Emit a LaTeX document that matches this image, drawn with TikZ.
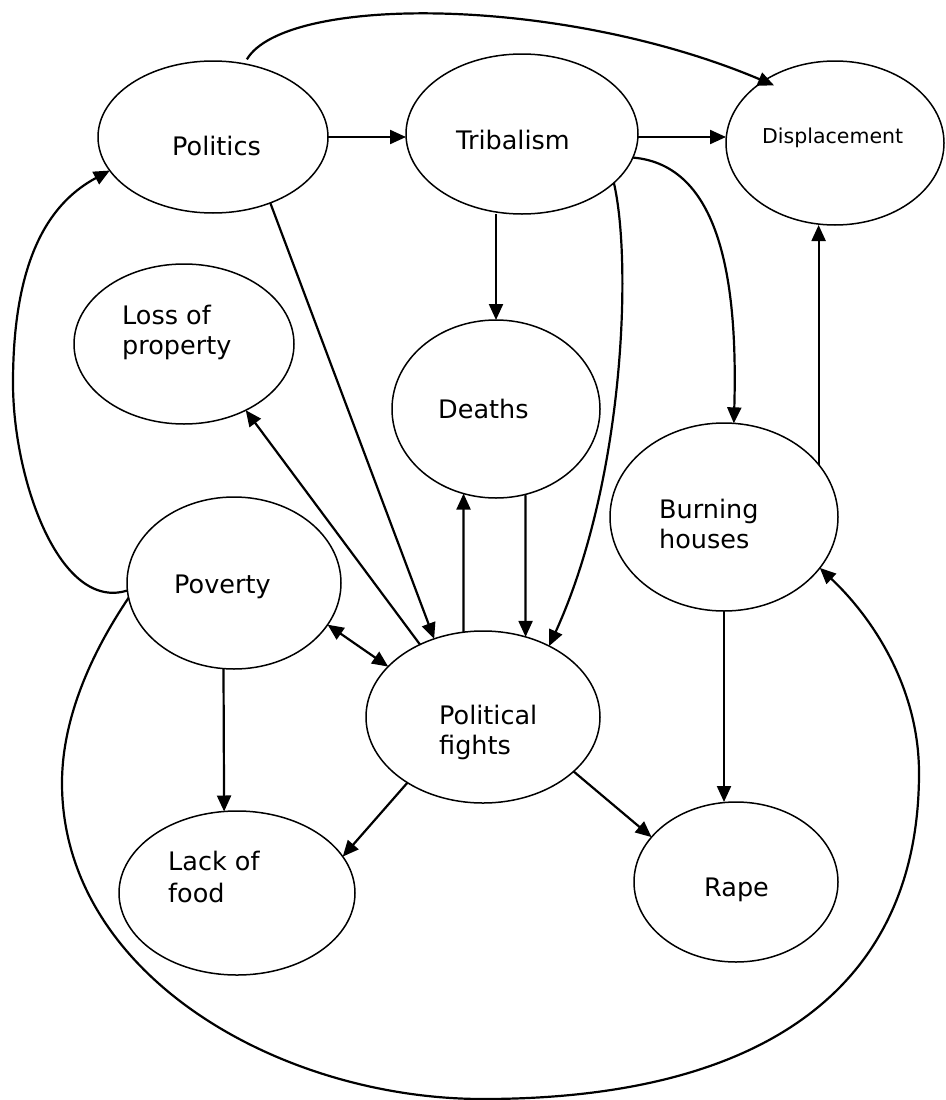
\documentclass[tikz,border=0pt]{standalone}
\usepackage{fontspec}
\setmainfont{DejaVu Sans}
\usetikzlibrary{shapes.geometric,arrows.meta}
\begin{document}
\begin{tikzpicture}[x=1pt,y=-1pt,
  ell/.style={ellipse,draw,line width=1.5pt,inner sep=0pt,outer sep=0pt},
  lbl/.style={anchor=base west,inner sep=0pt,align=left,font=\fontsize{25.5}{30}\selectfont},
  conn/.style={line width=2.2pt,-{Triangle[length=16pt,width=14pt]}},
  dconn/.style={line width=2.2pt,{Triangle[length=16pt,width=14pt]}-{Triangle[length=16pt,width=14pt]}}]
\useasboundingbox (0,0) rectangle (945,1100);
% ellipses
\node[ell,minimum width=230pt,minimum height=152pt] (pol) at (213,137) {};
\node[ell,minimum width=232pt,minimum height=160pt] (tri) at (522,134) {};
\node[ell,minimum width=218pt,minimum height=164pt] (dis) at (835,143) {};
\node[ell,minimum width=220pt,minimum height=160pt] (loss) at (184,344) {};
\node[ell,minimum width=208pt,minimum height=178pt] (dea) at (496,409) {};
\node[ell,minimum width=228pt,minimum height=188pt] (bur) at (724,517) {};
\node[ell,minimum width=214pt,minimum height=172pt] (pov) at (234,583) {};
\node[ell,minimum width=234pt,minimum height=172pt] (pf) at (483,717) {};
\node[ell,minimum width=236pt,minimum height=164pt] (lof) at (237,893) {};
\node[ell,minimum width=204pt,minimum height=160pt] (rape) at (736,882) {};
% labels (multi-line labels are anchored at the baseline of their last line)
\node[lbl] (tpol) at (172,155) {Politics};
\node[lbl] (ttri) at (456,149) {Tribalism};
\node[lbl,font=\fontsize{20.5}{24}\selectfont] (tdis) at (762,143) {Displacement};
\node[lbl] (tloss) at (122,354) {Loss of\\property};
\node[lbl] (tdea) at (438,418) {Deaths};
\node[lbl] (tbur) at (659,548) {Burning\\houses};
\node[lbl] (tpov) at (174,593) {Poverty};
\node[lbl] (tpf) at (439,754) {Political\\fights};
\node[lbl,font=\fontsize{25.5}{32}\selectfont] (tlof) at (168,902) {Lack of\\food};
\node[lbl] (trape) at (704,896) {Rape};
% connectors
\draw[conn] (pol.east) -- (pol.east -| tri.west);
\draw[conn] ([yshift=-3pt]tri.east) -- ([yshift=-3pt]tri.east -| dis.west);
\draw[conn] (dea.north |- tri.south) -- (dea.north);
\draw[conn] ([shift={(0,-5)}]pol.65) .. controls (285,-5) and (560,-5) .. ([shift={(6,7)}]dis.136);
\draw[conn] (tri.-12.5) .. controls (720,165) and (738,280) .. (bur.84);
\draw[conn] (tri.-28) .. controls (632,260) and (625,480) .. (pf.47);
\draw[conn] (pol.-49) -- (pf.122);
\draw[conn] (pf.131) -- (loss.-47);
\draw[conn] (dea.-71) -- (pf.62.4);
\draw[conn] (pf.103.3) -- (dea.-111.4);
\draw[dconn] (pov.-24) -- (pf.152);
\draw[conn] (pov.-97.3) -- (lof.99.8);
\draw[conn] (pf.-139.5) -- (lof.19.9);
\draw[conn] (pf.-31.6) -- (rape.152);
\draw[conn] (bur.south) -- (bur.south |- rape.north);
\draw[conn] (bur.29.5) -- (bur.29.5 |- dis.south);
\draw[conn] (pov.184) .. controls (60,612) and (13,480) .. (13,383) .. controls (13,250) and (55,200) .. (pol.198);
\draw[conn] (pov.188) .. controls (90,655) and (62,720) .. (62,783) .. controls (62,975) and (280,1099) .. (483,1099) .. controls (760,1099) and (919,990) .. (919,773) .. controls (919,690) and (875,620) .. (bur.-28);
\end{tikzpicture}
\end{document}
